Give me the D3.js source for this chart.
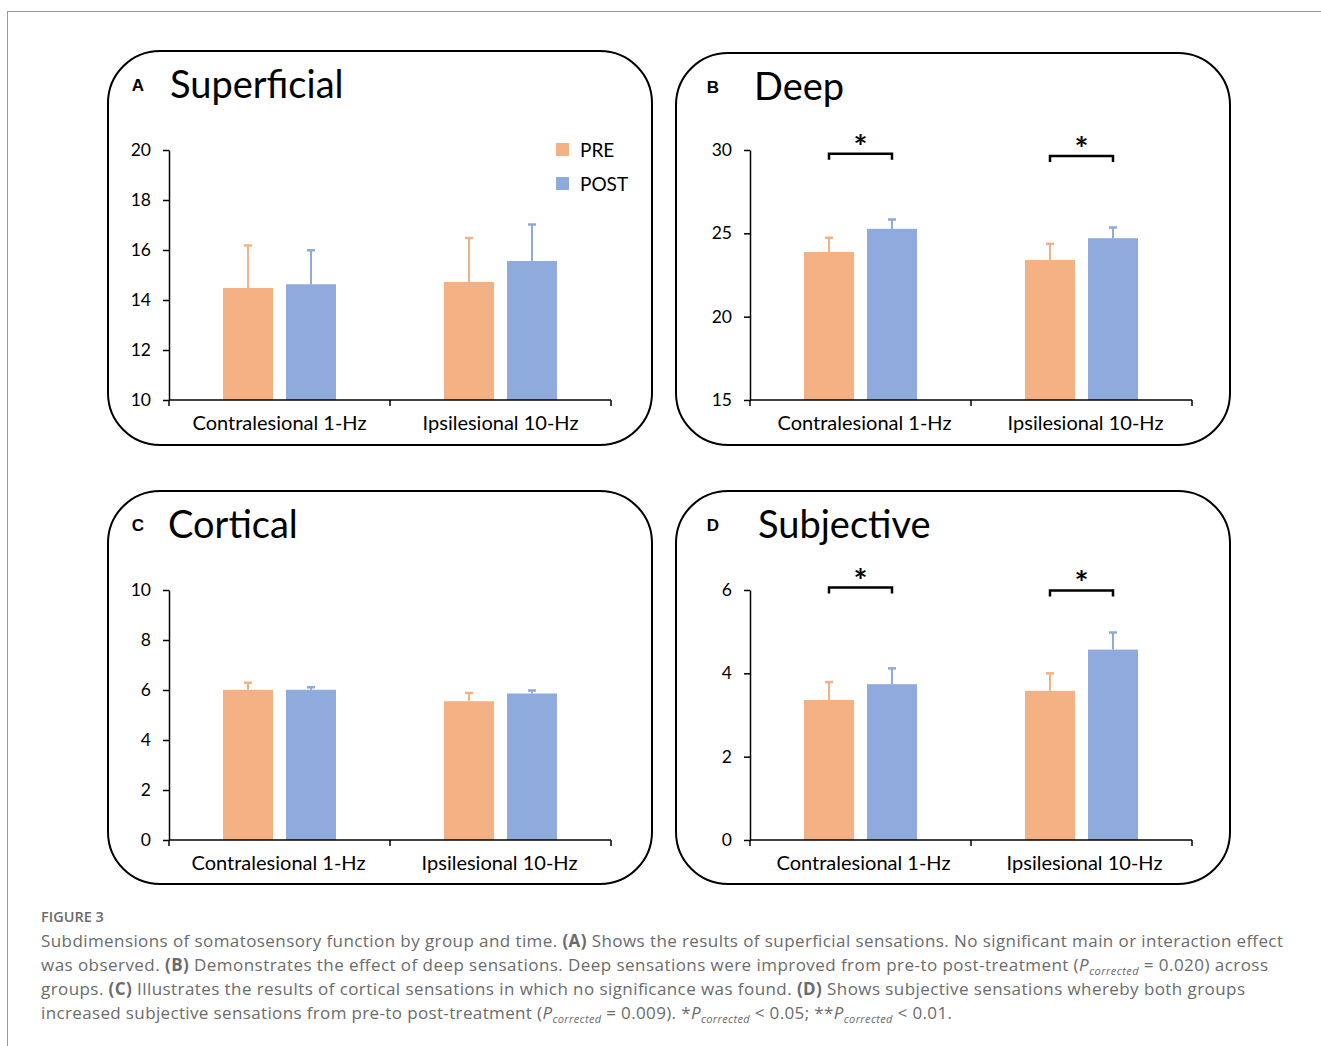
<!DOCTYPE html>
<html><head><meta charset="utf-8">
<script src="https://cdn.jsdelivr.net/npm/d3@7"></script>
<style>
body{margin:0;background:#fff;}
svg{display:block;}
</style></head>
<body>
<svg id="chart" width="1321" height="1046"></svg>
<script>
// ---- data ----
const categories = ["Contralesional 1-Hz", "Ipsilesional 10-Hz"];
const series = ["PRE", "POST"];

const superficialPre = [14.48, 14.72];
const superficialPost = [14.63, 15.56];
const superficialPreErr = [16.18, 16.48];
const superficialPostErr = [15.99, 17.02];
const superficialTicks = [10, 12, 14, 16, 18, 20];

const deepPre = [23.88, 23.40];
const deepPost = [25.27, 24.71];
const deepPreErr = [24.73, 24.37];
const deepPostErr = [25.83, 25.35];
const deepTicks = [15, 20, 25, 30];
const deepSig = [29.78, 29.64];

const corticalPre = [6.01, 5.55];
const corticalPost = [6.01, 5.86];
const corticalPreErr = [6.29, 5.88];
const corticalPostErr = [6.11, 5.98];
const corticalTicks = [0, 2, 4, 6, 8, 10];

const subjectivePre = [3.36, 3.58];
const subjectivePost = [3.74, 4.57];
const subjectivePreErr = [3.79, 4.00];
const subjectivePostErr = [4.12, 4.98];
const subjectiveTicks = [0, 2, 4, 6];
const subjectiveSig = [6.06, 5.99];

const panelLetters = ["A", "B", "C", "D"];
const panelTitles = ["Superficial", "Deep", "Cortical", "Subjective"];

const colors = {PRE: "#F4B183", POST: "#8FAADC"};

// ---- layout ----
const panels = [
  {letter: panelLetters[0], title: panelTitles[0], pre: superficialPre, post: superficialPost, preErr: superficialPreErr, postErr: superficialPostErr, ticks: superficialTicks, sig: null,
   box: [108, 51, 544, 394], x0: 169, x1: 611, yT: 150, yB: 400, letterX: 138, titleX: 170, legend: true, labDx: 0},
  {letter: panelLetters[1], title: panelTitles[1], pre: deepPre, post: deepPost, preErr: deepPreErr, postErr: deepPostErr, ticks: deepTicks, sig: deepSig,
   box: [676, 53, 554, 392], x0: 750, x1: 1192, yT: 150, yB: 400, letterX: 713, titleX: 754, legend: false, labDx: 4},
  {letter: panelLetters[2], title: panelTitles[2], pre: corticalPre, post: corticalPost, preErr: corticalPreErr, postErr: corticalPostErr, ticks: corticalTicks, sig: null,
   box: [108, 491, 544, 393], x0: 169, x1: 611, yT: 590, yB: 840, letterX: 138, titleX: 168, legend: false, labDx: -1},
  {letter: panelLetters[3], title: panelTitles[3], pre: subjectivePre, post: subjectivePost, preErr: subjectivePreErr, postErr: subjectivePostErr, ticks: subjectiveTicks, sig: subjectiveSig,
   box: [676, 491, 554, 393], x0: 750, x1: 1192, yT: 590, yB: 840, letterX: 713, titleX: 758, legend: false, labDx: 3}
];

const svg = d3.select("#chart");
const FONT = "Lato, 'Open Sans', sans-serif";

// frame
svg.append("line").attr("x1", 7).attr("y1", 11.5).attr("x2", 1321).attr("y2", 11.5).attr("stroke", "#9a9a9a").attr("stroke-width", 1);
svg.append("line").attr("x1", 7.5).attr("y1", 11).attr("x2", 7.5).attr("y2", 1046).attr("stroke", "#9a9a9a").attr("stroke-width", 1);

panels.forEach(p => {
  const g = svg.append("g");
  g.append("rect").attr("x", p.box[0]).attr("y", p.box[1]).attr("width", p.box[2]).attr("height", p.box[3])
    .attr("rx", 52).attr("ry", 52).attr("fill", "none").attr("stroke", "#000").attr("stroke-width", 2);

  g.append("text").attr("x", p.letterX).attr("y", p.box[1] + 40).attr("text-anchor", "middle")
    .attr("font-family", "'Liberation Sans', Arial, sans-serif").attr("font-weight", "bold").attr("font-size", 17).text(p.letter);
  g.append("text").attr("x", p.titleX).attr("y", p.box[1] + 47).attr("font-family", FONT).attr("font-size", 38).attr("fill", "#000").text(p.title);

  const dom = d3.extent(p.ticks);
  const y = d3.scaleLinear().domain(dom).range([p.yB, p.yT]);
  const x = d3.scaleBand().domain(categories).range([p.x0, p.x1]).padding(0);
  const xi = d3.scaleBand().domain(series).range([0, x.bandwidth()]).paddingInner(13/63).paddingOuter(0.857);

  // bars
  const rows = categories.map((c, i) => [
    {cat: c, s: "PRE", v: p.pre[i], e: p.preErr[i]},
    {cat: c, s: "POST", v: p.post[i], e: p.postErr[i]}
  ]).flat();

  g.selectAll(".bar").data(rows).join("rect")
    .attr("x", d => x(d.cat) + xi(d.s)).attr("width", xi.bandwidth())
    .attr("y", d => y(d.v)).attr("height", d => y(dom[0]) - y(d.v))
    .attr("fill", d => colors[d.s]);

  // error bars (upward only)
  rows.forEach(d => {
    const cx = x(d.cat) + xi(d.s) + xi.bandwidth() / 2;
    g.append("line").attr("x1", cx).attr("x2", cx).attr("y1", y(d.v)).attr("y2", y(d.e)).attr("stroke", colors[d.s]).attr("stroke-width", 2);
    g.append("line").attr("x1", cx - 4).attr("x2", cx + 4).attr("y1", y(d.e)).attr("y2", y(d.e)).attr("stroke", colors[d.s]).attr("stroke-width", 2.5);
  });

  // y axis
  const ya = g.append("g").attr("transform", `translate(${p.x0},0)`)
    .call(d3.axisLeft(y).tickValues(p.ticks).tickFormat(d3.format("d")).tickSize(6).tickPadding(12).tickSizeOuter(0));
  ya.select(".domain").attr("stroke", "#000").attr("stroke-width", 1.5);
  ya.selectAll(".tick line").attr("stroke", "#000").attr("stroke-width", 1.5);
  ya.selectAll(".tick text").attr("font-family", FONT).attr("font-size", 17.5).attr("fill", "#000");

  // x axis
  const xa = g.append("g").attr("transform", `translate(0,${p.yB})`)
    .call(d3.axisBottom(x).tickSize(0).tickPadding(16));
  xa.select(".domain").remove();
  xa.selectAll(".tick text").attr("font-family", FONT).attr("font-size", 20).attr("fill", "#000").attr("dx", p.labDx);
  g.append("line").attr("x1", p.x0).attr("x2", p.x1).attr("y1", p.yB).attr("y2", p.yB).attr("stroke", "#000").attr("stroke-width", 1.5);
  [p.x0, p.x0 + x.step(), p.x1].forEach(tx => {
    g.append("line").attr("x1", tx).attr("x2", tx).attr("y1", p.yB).attr("y2", p.yB + 6).attr("stroke", "#000").attr("stroke-width", 1.5);
  });

  // significance brackets
  if (p.sig) {
    categories.forEach((c, i) => {
      const xa1 = x(c) + xi("PRE") + xi.bandwidth() / 2;
      const xa2 = x(c) + xi("POST") + xi.bandwidth() / 2;
      const yy = y(p.sig[i]);
      g.append("path").attr("d", `M${xa1},${yy + 6}V${yy}H${xa2}V${yy + 6}`).attr("fill", "none").attr("stroke", "#000").attr("stroke-width", 2.5);
      g.append("text").attr("x", (xa1 + xa2) / 2).attr("y", yy + 5).attr("text-anchor", "middle")
        .attr("font-family", FONT).attr("font-size", 33).attr("font-weight", "bold").text("*");
    });
  }

  // legend
  if (p.legend) {
    series.forEach((s, i) => {
      g.append("rect").attr("x", 556).attr("y", 143 + i * 34).attr("width", 13).attr("height", 13).attr("fill", colors[s]);
      g.append("text").attr("x", 580).attr("y", 150 + i * 34).attr("dy", "0.35em").attr("font-family", FONT).attr("font-size", 19).text(s);
    });
  }
});

// caption
const CF = "'Open Sans', 'Noto Sans', sans-serif";
svg.append("text").attr("x", 41).attr("y", 922).attr("font-family", CF).attr("font-size", 14.5).attr("font-weight", 600).attr("fill", "#6b6b6b").text("FIGURE 3");

const captionLines = [
  [["Subdimensions of somatosensory function by group and time. "], ["(A)", "b"], [" Shows the results of superficial sensations. No significant main or interaction effect"]],
  [["was observed. "], ["(B)", "b"], [" Demonstrates the effect of deep sensations. Deep sensations were improved from pre-to post-treatment ("], ["P", "i"], ["corrected", "sub"], [" = 0.020) across"]],
  [["groups. "], ["(C)", "b"], [" Illustrates the results of cortical sensations in which no significance was found. "], ["(D)", "b"], [" Shows subjective sensations whereby both groups"]],
  [["increased subjective sensations from pre-to post-treatment ("], ["P", "i"], ["corrected", "sub"], [" = 0.009). *"], ["P", "i"], ["corrected", "sub"], [" < 0.05; **"], ["P", "i"], ["corrected", "sub"], [" < 0.01."]]
];
const lineLens = [1242, 1227, 1204, 911];
captionLines.forEach((parts, li) => {
  const t = svg.append("text").attr("x", 41).attr("y", 947 + li * 24).attr("font-family", CF).attr("font-size", 17).attr("fill", "#6b6b6b")
    .attr("textLength", lineLens[li]).attr("lengthAdjust", "spacing");
  let prevSub = false;
  parts.forEach(([str, st]) => {
    const ts = t.append("tspan").text(str);
    if (st === "b") ts.attr("font-weight", "bold");
    if (st === "i") ts.attr("font-style", "italic");
    if (st === "sub") { ts.attr("font-style", "italic").attr("font-size", 11).attr("dy", 4); }
    else if (prevSub) ts.attr("dy", -4);
    prevSub = st === "sub";
  });
});
</script>
</body></html>
